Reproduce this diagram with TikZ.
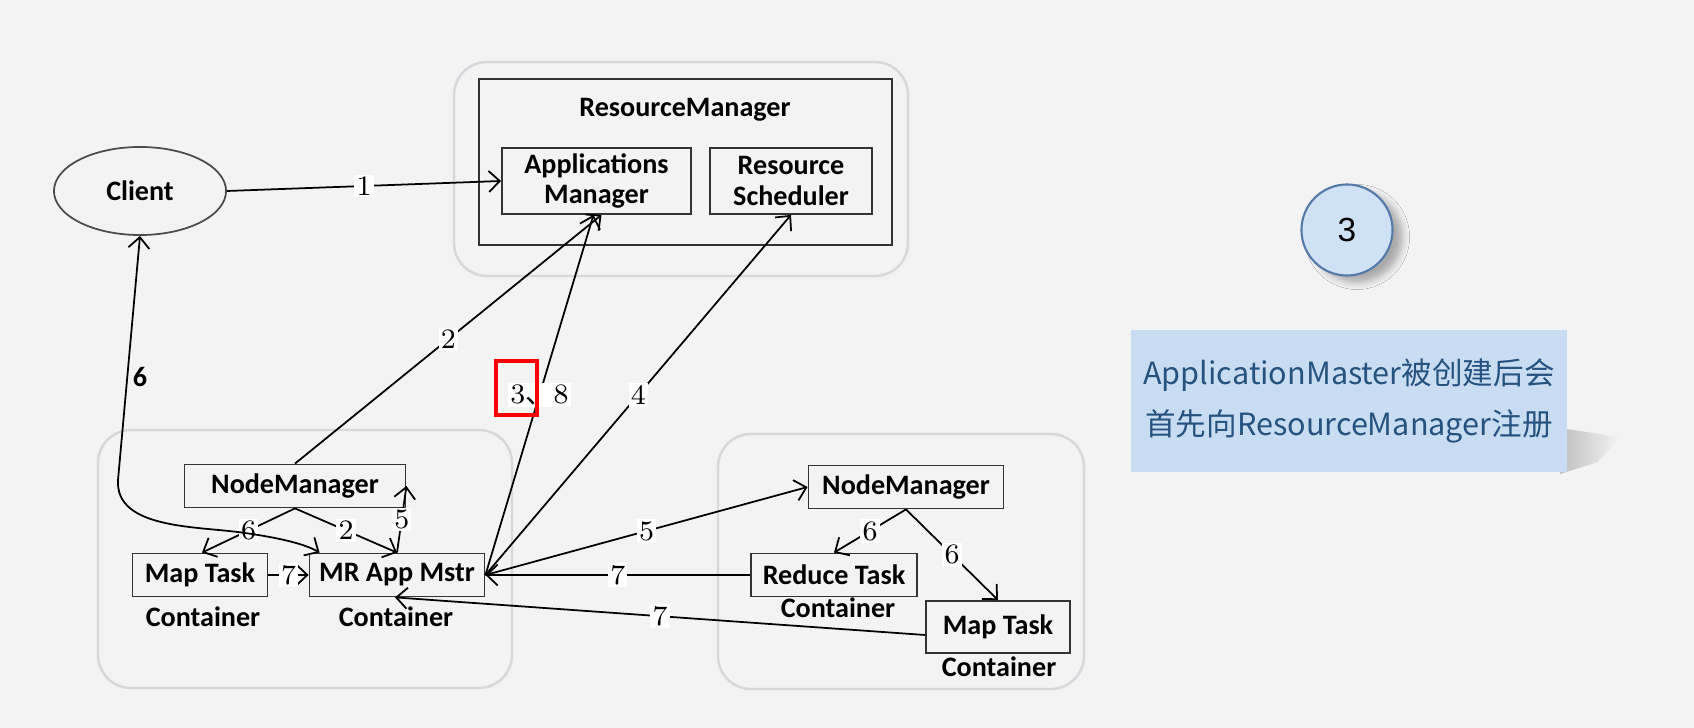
\documentclass[tikz,border=0pt]{standalone}
\usepackage{fontspec}
\usepackage{tikz}
\usetikzlibrary{positioning,calc}
\usetikzlibrary{arrows.meta,shapes.geometric,shadows.blur}
\newfontfamily\calfont{Carlito}
\newfontfamily\cjk{Noto Sans CJK SC}
\newfontfamily\arialfont{Liberation Sans}
\definecolor{SlideGray}{RGB}{243,243,243}
\definecolor{GroupLine}{RGB}{214,216,220}
\definecolor{NoteBlue}{RGB}{201,221,242}
\definecolor{NoteText}{RGB}{38,82,128}
\definecolor{StepBlue}{RGB}{207,225,244}
\definecolor{StepLine}{RGB}{84,122,168}
\tikzset{
  box/.style={draw=black!80,line width=0.5pt,inner sep=0pt,align=center,
    font=\calfont\bfseries\fontsize{8}{8.6}\selectfont},
  lbl/.style={inner sep=0pt,font=\calfont\bfseries\fontsize{8}{8.6}\selectfont},
  group/.style={draw=GroupLine,fill=SlideGray,rounded corners=0.33cm,line width=0.7pt},
  link/.style={draw=black,line width=0.5pt,->},
  num/.style={fill=white,inner sep=0.6pt,font=\fontsize{8}{8}\selectfont},
  >={Straight Barb[length=1.1mm,width=2.1mm]},
}
\begin{document}
\begin{tikzpicture}[x=0.01cm,y=-0.01cm]
\path[fill=SlideGray,use as bounding box] (0,0) rectangle (1694,728);
\draw[group] (454,62) rectangle (908,276);
\draw[group] (98,430) rectangle (512,688);
\draw[group] (718,434) rectangle (1084,689);
\draw[black!80,line width=0.5pt] (479,79) rectangle (892,245);
\node[lbl] (rmtitle) at (685,110) {ResourceManager};
\node[box,minimum width=1.89cm,minimum height=0.66cm] (am) at (596.5,181) {Applications\\Manager};
\node[box,minimum width=1.62cm,minimum height=0.66cm] (rs) at (791,181) {Resource\\Scheduler};
\node[box,ellipse,draw=black!70,minimum width=1.72cm,minimum height=0.88cm] (client) at (140,191) {Client};
\node[box,minimum width=2.21cm,minimum height=0.43cm] (nml) at (295,486) {NodeManager};
\node[box,minimum width=1.35cm,minimum height=0.43cm] (mtl) at (200,575) {Map Task};
\node[box,minimum width=1.75cm,minimum height=0.43cm] (mr) at (397,575) {MR App Mstr};
\node[lbl] (cl1) at (203,617) {Container};
\node[lbl] (cl2) at (396,617) {Container};
\node[box,minimum width=1.95cm,minimum height=0.43cm] (nmr) at (906,487) {NodeManager};
\node[box,minimum width=1.66cm,minimum height=0.43cm] (rt) at (834,575) {Reduce Task};
\node[box,minimum width=1.44cm,minimum height=0.52cm] (mtr) at (998,627) {Map Task};
\node[lbl] (cr1) at (838,608) {Container};
\node[lbl] (cr2) at (999,667) {Container};
\coordinate (c6a) at (118,480);
\coordinate (c6b) at (245,533);
\draw[link] (client.east) -- node[num] {1} (am.west);
\draw[link] (nml.north) -- node[num] {2} ($(am.south)+(5,0)$);
\draw[link] (mr.east) -- node[num,pos=0.5] {3{\cjk 、}8} ($(am.south)+(-3,0)$);
\draw[link] (mr.east) -- node[num] {4} (rs.south);
\draw[link] (mr.east) -- node[num] {5} (nmr.west);
\draw[link] (rt.west) -- node[num] {7} (mr.east);
\draw[link] ($(mtr.west)+(0,8)$) -- node[num] {7} ($(mr.south)+(-2,0)$);
\draw[link] (nmr.south) -- node[num] {6} (rt.north);
\draw[link] (nmr.south) -- node[num] {6} (mtr.north);
\draw[link] (nml.south) -- node[num] {6} ($(mtl.north)+(2,0)$);
\draw[link] (nml.south) -- node[num] {2} (mr.north);
\draw[link] (mr.north) -- node[num] {5} (nml.east);
\draw[link] (mtl.east) -- node[num] {7} (mr.west);
\draw[link,<->] (client.south) -- (c6a) .. controls (115,530) and (200,526) .. (c6b)
  .. controls (280,538) and (305,544) .. ($(mr.north west)+(11,0)$);
\node[lbl] (six) at (140,377) {6};
\node[draw=red,line width=1pt,minimum width=0.41cm,minimum height=0.54cm,inner sep=0pt] (hl) at (516.5,388) {};
\node[circle,draw=StepLine,fill=StepBlue,line width=0.6pt,minimum size=0.91cm,inner sep=0pt,
  font=\arialfont\fontsize{9.5}{10}\selectfont,
  blur shadow={shadow xshift=0.1cm,shadow yshift=-0.07cm,shadow opacity=30,shadow blur radius=0.07cm}] (step) at (1347,230) {3};
\shade[left color=black!25,right color=SlideGray] (1560,428) -- (1620,437) -- (1598,462) -- (1560,474) -- cycle;
\node[fill=NoteBlue,minimum width=4.36cm,minimum height=1.42cm,inner sep=0pt,align=center,
  text=NoteText,font=\cjk\fontsize{8.7}{14.7}\selectfont] (note) at (1349,401)
  {ApplicationMaster被创建后会\\首先向ResourceManager注册};
\end{tikzpicture}
\end{document}
